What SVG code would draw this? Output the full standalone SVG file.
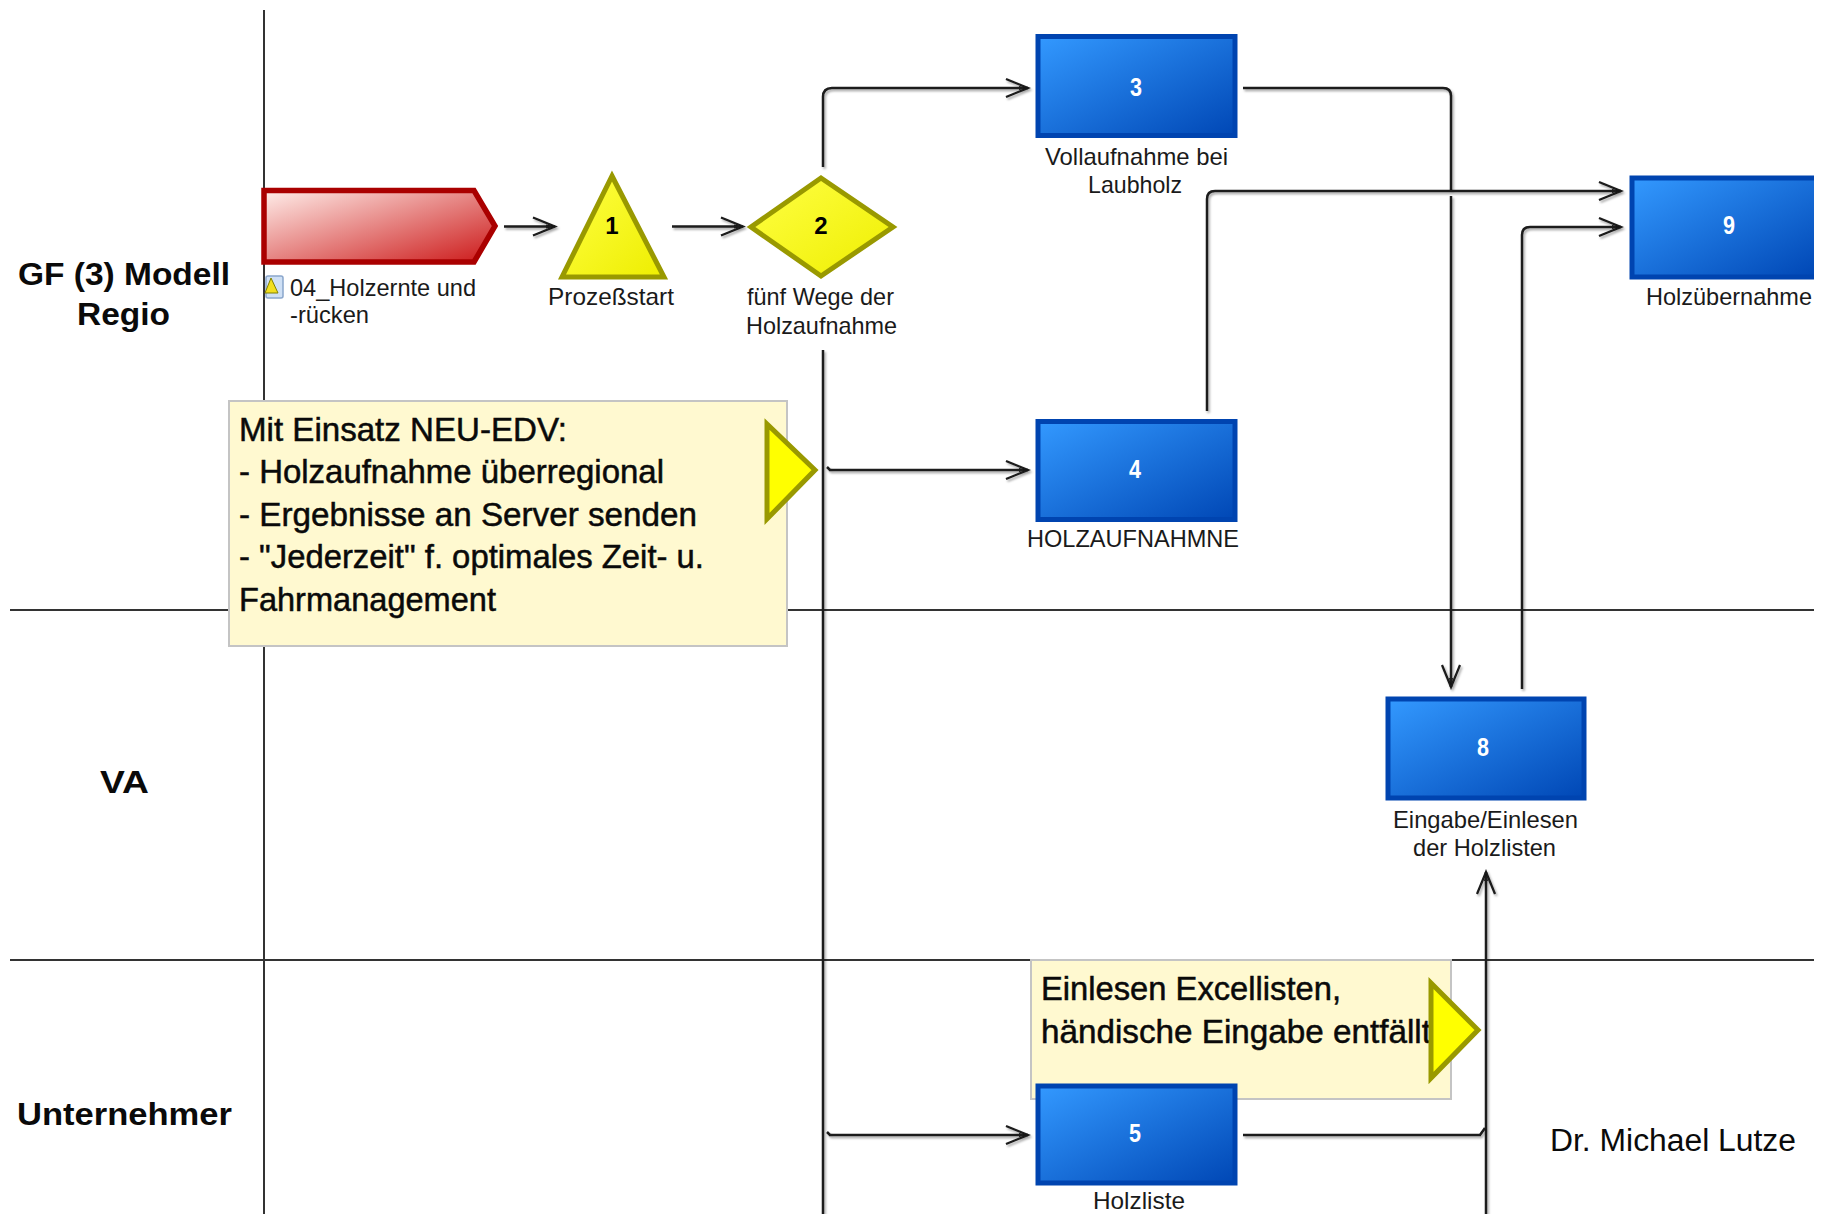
<svg xmlns="http://www.w3.org/2000/svg" width="1822" height="1214" viewBox="0 0 1822 1214">
<style>
text{font-family:"Liberation Sans",Arial,sans-serif}
.lane{stroke:#333;stroke-width:2;fill:none}
.conn{stroke:#1a1a1a;stroke-width:2.5;fill:none}
.lbl{font-size:24px;fill:#1a1a1a}
.note{fill:#fff9d0;stroke:#c4c4c4;stroke-width:2}
.nt{font-size:33px;fill:#0a0a0a;stroke:#0a0a0a;stroke-width:.5}
.tri{fill:#ff0;stroke:#999900;stroke-width:5}
.box{fill:url(#blue);stroke:#0044b0;stroke-width:5}
.y{fill:url(#yel);stroke:#999900;stroke-width:5}
.wn{font-size:26px;font-weight:bold;fill:#fff;text-anchor:middle}
.bn{font-size:24px;font-weight:bold;fill:#000;text-anchor:middle}
.ln{font-size:31px;font-weight:bold;fill:#0a0a0a}
</style>
<defs>
<linearGradient id="blue" x1="0" y1="0" x2="1" y2="1"><stop offset="0" stop-color="#3399ff"/><stop offset="1" stop-color="#0047b5"/></linearGradient>
<linearGradient id="red" x1="0" y1="0" x2="1" y2="1"><stop offset="0" stop-color="#ffeeea"/><stop offset="1" stop-color="#cc1818"/></linearGradient>
<linearGradient id="yel" x1="0" y1="0" x2="1" y2="1"><stop offset="0" stop-color="#ffff44"/><stop offset="1" stop-color="#eeee00"/></linearGradient>
<marker id="a" markerUnits="userSpaceOnUse" markerWidth="30" markerHeight="24" refX="26" refY="12" orient="auto"><path d="M4 3L26 12L4 21" fill="none" stroke="#1a1a1a" stroke-width="2.2"/><path d="M17 10L26 12L17 14Z" fill="#1a1a1a"/></marker>
<filter id="s" x="-5%" y="-5%" width="110%" height="110%"><feDropShadow dx="1.5" dy="2" stdDeviation="1" flood-color="#000" flood-opacity=".35"/></filter>
</defs>
<rect width="1822" height="1214" fill="#fff"/>
<g id="lanes">
<path class="lane" d="M264 10V1214M10 610H1814M10 960H1814"/>
<text class="ln" x="18" y="285" textLength="212" lengthAdjust="spacingAndGlyphs">GF (3) Modell</text>
<text class="ln" x="77" y="325" textLength="93" lengthAdjust="spacingAndGlyphs">Regio</text>
<text class="ln" x="100" y="793" textLength="49" lengthAdjust="spacingAndGlyphs">VA</text>
<text class="ln" x="17" y="1125" textLength="215" lengthAdjust="spacingAndGlyphs">Unternehmer</text>
</g>
<g id="note1">
<rect class="note" x="229" y="401" width="558" height="245"/>
<text class="nt" x="239" y="441" textLength="328" lengthAdjust="spacingAndGlyphs">Mit Einsatz NEU-EDV:</text>
<text class="nt" x="239" y="483" textLength="425" lengthAdjust="spacingAndGlyphs">- Holzaufnahme überregional</text>
<text class="nt" x="239" y="526" textLength="458" lengthAdjust="spacingAndGlyphs">- Ergebnisse an Server senden</text>
<text class="nt" x="239" y="568" textLength="465" lengthAdjust="spacingAndGlyphs">- "Jederzeit" f. optimales Zeit- u.</text>
<text class="nt" x="239" y="611" textLength="257" lengthAdjust="spacingAndGlyphs">Fahrmanagement</text>
<path class="tri" d="M767 424L815 470L767 519Z"/>
</g>
<g id="note2">
<rect class="note" x="1031" y="960" width="420" height="139"/>
<text class="nt" x="1041" y="1000" textLength="300" lengthAdjust="spacingAndGlyphs">Einlesen Excellisten,</text>
<text class="nt" x="1041" y="1043" textLength="390" lengthAdjust="spacingAndGlyphs">händische Eingabe entfällt</text>
<path class="tri" d="M1431 983L1478 1030L1431 1078Z"/>
</g>
<g id="connectors" filter="url(#s)">
<path class="conn" marker-end="url(#a)" d="M504 226.500H555"/>
<path class="conn" marker-end="url(#a)" d="M672 226.500H743"/>
<path class="conn" marker-end="url(#a)" d="M823 167V97Q823 88 832 88H1028"/>
<path class="conn" d="M823 350V1214"/>
<path class="conn" marker-end="url(#a)" d="M827 467L830 470H1028"/>
<path class="conn" marker-end="url(#a)" d="M827 1132L830 1135H1028"/>
<path class="conn" d="M1243 88H1443Q1451 88 1451 96V192"/>
<path class="conn" marker-end="url(#a)" d="M1451 196V687"/>
<path class="conn" marker-end="url(#a)" d="M1207 411V199Q1207 191 1215 191H1621"/>
<path class="conn" marker-end="url(#a)" d="M1522 689V235Q1522 227 1530 227H1621"/>
<path class="conn" marker-end="url(#a)" d="M1486 1214V872"/>
<path class="conn" d="M1243 1135H1480L1485 1128"/>
</g>
<g id="start">
<path d="M264 190.500H474L495 226L474 262H264Z" fill="url(#red)" stroke="#aa0000" stroke-width="5.500"/>
<rect x="266" y="276" width="17" height="22" rx="2" fill="#cfe0f5" stroke="#8aa6cc" stroke-width="1.500"/>
<path d="M265 293L271 278L278 293Z" fill="#f2df20" stroke="#808000"/>
<text class="lbl" x="290" y="296" textLength="186" lengthAdjust="spacingAndGlyphs">04_Holzernte und</text>
<text class="lbl" x="290" y="323" textLength="79" lengthAdjust="spacingAndGlyphs">-rücken</text>
</g>
<g id="n1">
<path class="y" d="M612 176L664 277H562Z"/>
<text class="bn" x="612" y="234">1</text>
<text class="lbl" x="548" y="305" textLength="126" lengthAdjust="spacingAndGlyphs">Prozeßstart</text>
</g>
<g id="n2">
<path class="y" d="M821 178L893 227L821 276L751 227Z"/>
<text class="bn" x="821" y="234">2</text>
<text class="lbl" x="747" y="305" textLength="147" lengthAdjust="spacingAndGlyphs">fünf Wege der</text>
<text class="lbl" x="746" y="334" textLength="151" lengthAdjust="spacingAndGlyphs">Holzaufnahme</text>
</g>
<g id="n3">
<rect class="box" x="1038" y="36.500" width="197" height="99"/>
<text class="wn" x="1136" y="96" textLength="12" lengthAdjust="spacingAndGlyphs">3</text>
<text class="lbl" x="1045" y="165" textLength="183" lengthAdjust="spacingAndGlyphs">Vollaufnahme bei</text>
<text class="lbl" x="1088" y="193" textLength="94" lengthAdjust="spacingAndGlyphs">Laubholz</text>
</g>
<g id="n4">
<rect class="box" x="1038" y="421.500" width="197" height="98"/>
<text class="wn" x="1135" y="478" textLength="12" lengthAdjust="spacingAndGlyphs">4</text>
<text class="lbl" x="1027" y="547" textLength="212" lengthAdjust="spacingAndGlyphs">HOLZAUFNAHMNE</text>
</g>
<g id="n5">
<rect class="box" x="1038" y="1086" width="197" height="97"/>
<text class="wn" x="1135" y="1142" textLength="12" lengthAdjust="spacingAndGlyphs">5</text>
<text class="lbl" x="1093" y="1208.500" textLength="92" lengthAdjust="spacingAndGlyphs">Holzliste</text>
</g>
<g id="n8">
<rect class="box" x="1388" y="699" width="196" height="99"/>
<text class="wn" x="1483" y="756" textLength="12" lengthAdjust="spacingAndGlyphs">8</text>
<text class="lbl" x="1393" y="828" textLength="185" lengthAdjust="spacingAndGlyphs">Eingabe/Einlesen</text>
<text class="lbl" x="1413" y="856" textLength="143" lengthAdjust="spacingAndGlyphs">der Holzlisten</text>
</g>
<g id="n9">
<path d="M1814 178H1632V277H1814" fill="url(#blue)" stroke="#0044b0" stroke-width="5"/>
<text class="wn" x="1729" y="234" textLength="12" lengthAdjust="spacingAndGlyphs">9</text>
<text class="lbl" x="1646" y="305" textLength="166" lengthAdjust="spacingAndGlyphs">Holzübernahme</text>
</g>
<text id="author" x="1550" y="1151" font-size="31" fill="#0a0a0a" textLength="246" lengthAdjust="spacingAndGlyphs">Dr. Michael Lutze</text>
</svg>
